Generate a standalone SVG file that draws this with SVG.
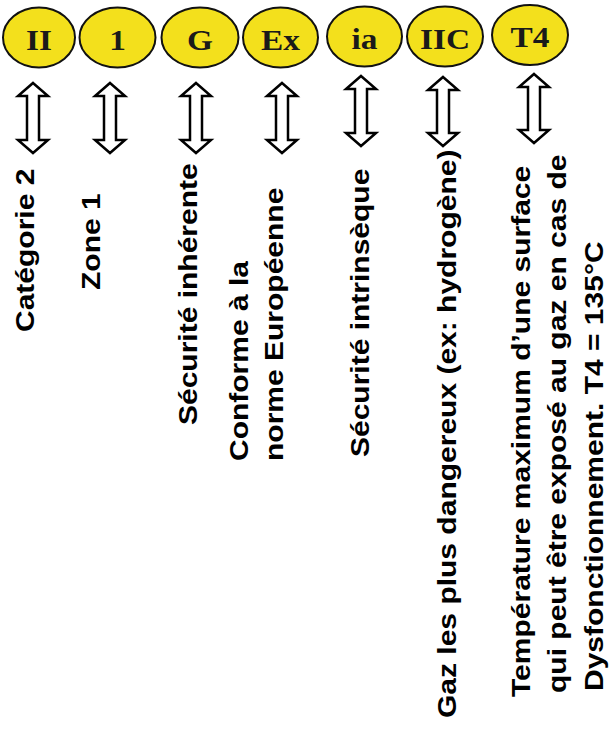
<svg xmlns="http://www.w3.org/2000/svg" width="611" height="734" viewBox="0 0 611 734">
<style>
.bub{fill:#f3e01c;stroke:#111;stroke-width:2}
.sym{font-family:"Liberation Serif","Times New Roman",serif;font-weight:bold;font-size:29px;fill:#1a1a1a;text-anchor:middle}
.lbl{font-family:"Liberation Sans",Arial,sans-serif;font-weight:bold;font-size:25px;fill:#000}
.arr{fill:#fff;stroke:#000;stroke-width:2.5;stroke-linejoin:miter}
</style>
<rect width="611" height="734" fill="#fff"/>
<g id="node-II"><ellipse class="bub" cx="39" cy="37.5" rx="36" ry="30"/><text class="sym" transform="translate(39,50) scale(1.15,1)">II</text></g>
<g id="node-1"><ellipse class="bub" cx="117.5" cy="37.5" rx="38" ry="30"/><text class="sym" transform="translate(117.5,50) scale(1.15,1)">1</text></g>
<g id="node-G"><ellipse class="bub" cx="200" cy="37.5" rx="38.5" ry="30"/><text class="sym" transform="translate(200,50) scale(1.15,1)">G</text></g>
<g id="node-Ex"><ellipse class="bub" cx="280.5" cy="37.5" rx="37.5" ry="30"/><text class="sym" transform="translate(280.5,50) scale(1.15,1)">Ex</text></g>
<g id="node-ia"><ellipse class="bub" cx="364.5" cy="36.5" rx="37.5" ry="30"/><text class="sym" transform="translate(364.5,49) scale(1.15,1)">ia</text></g>
<g id="node-IIC"><ellipse class="bub" cx="445" cy="36.5" rx="38" ry="30"/><text class="sym" transform="translate(445,49) scale(1.15,1)">IIC</text></g>
<g id="node-T4"><ellipse class="bub" cx="530" cy="35" rx="38" ry="30"/><text class="sym" transform="translate(530,47) scale(1.15,1)">T4</text></g>
<g id="connectors">
<path class="arr" d="M33,83 L48,96 L39,96 L39,140 L48,140 L33,153 L18,140 L27,140 L27,96 L18,96 Z"/>
<path class="arr" d="M110,83 L125,96 L116,96 L116,140 L125,140 L110,153 L95,140 L104,140 L104,96 L95,96 Z"/>
<path class="arr" d="M196,83 L211,96 L202,96 L202,140 L211,140 L196,153 L181,140 L190,140 L190,96 L181,96 Z"/>
<path class="arr" d="M282,83 L297,96 L288,96 L288,140 L297,140 L282,153 L267,140 L276,140 L276,96 L267,96 Z"/>
<path class="arr" d="M361,76 L376,89 L367,89 L367,133 L376,133 L361,146 L346,133 L355,133 L355,89 L346,89 Z"/>
<path class="arr" d="M443,77 L458,90 L449,90 L449,133 L458,133 L443,146 L428,133 L437,133 L437,90 L428,90 Z"/>
<path class="arr" d="M534,74 L549,87 L540,87 L540,130 L549,130 L534,143 L519,130 L528,130 L528,87 L519,87 Z"/>
</g>
<g id="label-II"><text class="lbl" transform="translate(34,332) rotate(-90) scale(1.2,1)">Catégorie 2</text></g>
<g id="label-1"><text class="lbl" transform="translate(100,290) rotate(-90) scale(1.2,1)">Zone 1</text></g>
<g id="label-G"><text class="lbl" transform="translate(197,425) rotate(-90) scale(1.2,1)">Sécurité inhérente</text></g>
<g id="label-Ex">
<text class="lbl" transform="translate(248,461) rotate(-90) scale(1.2,1)">Conforme à la</text>
<text class="lbl" transform="translate(283,461) rotate(-90) scale(1.2,1)">norme Européenne</text>
</g>
<g id="label-ia"><text class="lbl" transform="translate(369,457) rotate(-90) scale(1.2,1)">Sécurité intrinsèque</text></g>
<g id="label-IIC"><text class="lbl" transform="translate(456,718) rotate(-90) scale(1.2,1)">Gaz les plus dangereux (ex: hydrogène)</text></g>
<g id="label-T4">
<text class="lbl" transform="translate(530,697) rotate(-90) scale(1.2,1)">Température maximum d’une surface</text>
<text class="lbl" transform="translate(566,693) rotate(-90) scale(1.2,1)">qui peut être exposé au gaz en cas de</text>
<text class="lbl" transform="translate(603,691) rotate(-90) scale(1.2,1)">Dysfonctionnement. T4 = 135°C</text>
</g>
</svg>
